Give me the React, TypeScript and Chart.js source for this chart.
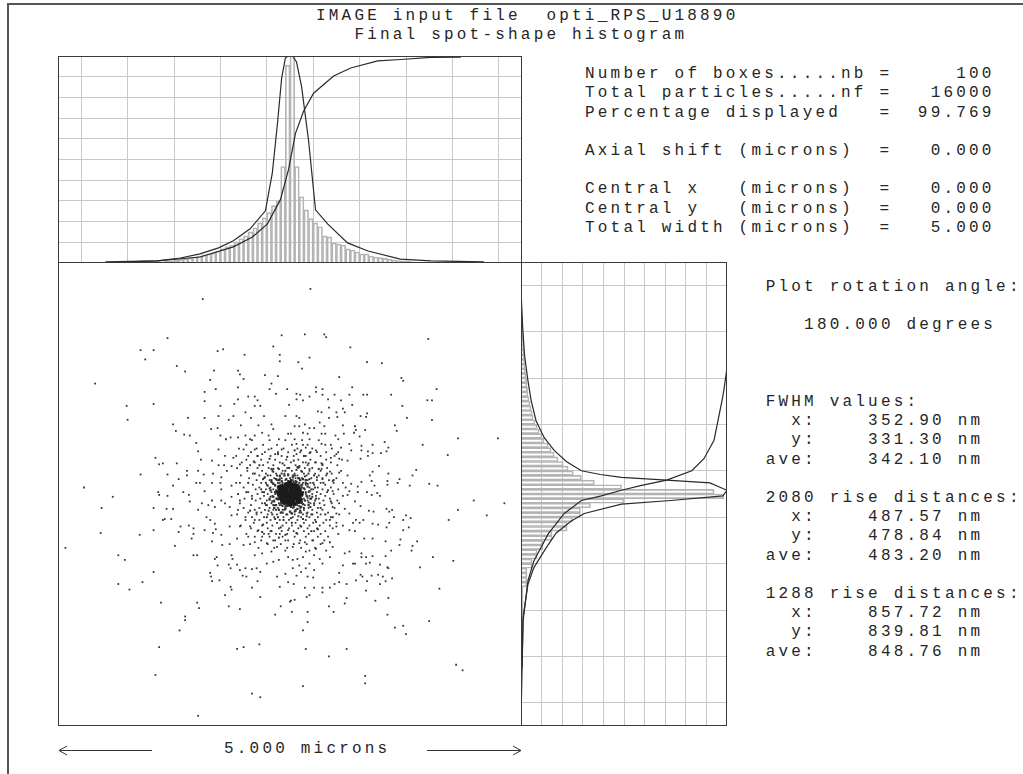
import React, { useEffect, useRef } from "react";
import { Chart, registerables } from "chart.js";

Chart.register(...registerables);

// ---------------- text ----------------
const TITLE_LINES = ["IMAGE input file  opti_RPS_U18890", "   Final spot-shape histogram"];
const STATS_LINES = [
  "Number of boxes.....nb =     100",
  "Total particles.....nf =   16000",
  "Percentage displayed   =  99.769",
  "",
  "Axial shift (microns)  =   0.000",
  "",
  "Central x   (microns)  =   0.000",
  "Central y   (microns)  =   0.000",
  "Total width (microns)  =   5.000",
];
const INFO_LINES = [
  "Plot rotation angle:",
  "",
  "   180.000 degrees",
  "",
  "",
  "",
  "FWHM values:",
  "  x:    352.90 nm",
  "  y:    331.30 nm",
  "ave:    342.10 nm",
  "",
  "2080 rise distances:",
  "  x:    487.57 nm",
  "  y:    478.84 nm",
  "ave:    483.20 nm",
  "",
  "1288 rise distances:",
  "  x:    857.72 nm",
  "  y:    839.81 nm",
  "ave:    848.76 nm",
];
const SCALE_LABEL = "5.000 microns";

// ---------------- histogram parameters ----------------
const NB = 100;
const TOTAL_WIDTH = 5.0;

// top (x) histogram counts, percent of peak, bins from -2.5 to 2.5 microns
const topHistCounts = [
  0, 0, 0, 0, 0, 0, 0, 0, 0, 0,
  0, 0, 0, 0, 0, 0.1, 0.1, 0.2, 0.2, 0.3,
  0.4, 0.5, 0.6, 0.8, 1.0, 1.3, 1.6, 2.0, 2.4, 2.9,
  3.4, 3.9, 4.4, 4.9, 5.8, 6.8, 7.8, 8.7, 10.2, 11.7,
  13.1, 15.0, 17.0, 19.4, 21.8, 24.3, 27.7, 30.0, 46.6, 95.6,
  100, 46.6, 32.0, 25.7, 21.4, 19.4, 17.5, 13.1, 12.6, 9.7,
  9.2, 8.7, 6.8, 6.3, 5.3, 4.4, 4.4, 3.4, 2.9, 2.6,
  2.2, 1.9, 1.5, 1.2, 1.0, 0.8, 0.6, 0.5, 0.4, 0.3,
  0.2, 0.2, 0.1, 0.1, 0, 0, 0, 0, 0, 0,
  0, 0, 0, 0, 0, 0, 0, 0, 0, 0,
];
const topProfileX = [-1.99, -1.43, -1.18, -0.97, -0.77, -0.61, -0.43, -0.265, -0.19, -0.135, -0.09, -0.05, -0.02, 0.03, 0.07, 0.124, 0.2, 0.275, 0.405, 0.62, 0.84, 1.19, 1.52, 2.09];
const topProfileY = [0.5, 1.0, 2.4, 4.4, 7.3, 10.7, 16.5, 25.2, 43.7, 67.5, 89.3, 99, 100, 100, 97.1, 85.4, 59.2, 25.7, 18.9, 9.7, 5.8, 1.9, 1.0, 0.5];
const topCumX = [-1.99, -1.43, -0.97, -0.61, -0.405, -0.243, -0.103, -0.016, 0.059, 0.146, 0.254, 0.47, 0.654, 0.945, 1.193, 1.517, 1.841];
const topCumY = [0.2, 1.0, 2.9, 7.8, 12.6, 18.9, 30.6, 45.1, 62.6, 73.3, 82.0, 90.3, 94.2, 97.6, 98.3, 99.3, 99.5];

// side (y) histogram counts, bins listed from top of the panel to bottom
const sideHistCounts = [
  0, 0, 0, 0.15, 0.15, 0.25, 0.25, 0.4, 0.4, 0.4,
  0.5, 0.6, 0.7, 0.8, 0.9, 1.0, 1.1, 1.3, 1.4, 1.6,
  1.7, 1.9, 2.0, 2.2, 2.4, 2.7, 2.9, 3.2, 3.4, 3.9,
  4.4, 4.9, 5.4, 5.9, 6.8, 7.8, 8.8, 10.2, 11.2, 13.2,
  14.6, 16.1, 18.0, 20.5, 22.9, 25.4, 29.3, 35.6, 48.8, 93.7,
  98.5, 50.0, 33.7, 28.8, 28.8, 25.0, 22.4, 22.4, 15.1, 15.1,
  10.7, 10.7, 7.8, 7.8, 5.4, 5.4, 2.9, 2.9, 2.9, 2.9,
  1.0, 1.0, 1.0, 1.0, 1.0, 1.0, 0.7, 0.6, 0.5, 0.4,
  0.3, 0.2, 0.2, 0.2, 0.2, 0.2, 0, 0, 0, 0,
  0, 0, 0, 0, 0, 0, 0, 0, 0, 0,
];
const sideProfilePos = [-2.09, -1.8, -1.5, -1.23, -1.01, -0.79, -0.61, -0.47, -0.35, -0.25, -0.21, -0.18, -0.15, -0.12, -0.04, 0.02, 0.07, 0.11, 0.21, 0.29, 0.42, 0.58, 0.79, 0.97, 1.33, 1.87];
const sideProfileVal = [0.2, 0.8, 1.7, 3.3, 4.9, 7.3, 11.2, 16.1, 22.0, 29.3, 38.5, 48.8, 70.7, 91.7, 100, 98.0, 72.7, 48.8, 30.7, 24.4, 17.1, 12.2, 6.3, 3.4, 1.0, 0.5];
const sideCumPos = [-1.59, -1.33, -1.12, -1.01, -0.58, -0.38, -0.25, -0.15, -0.09, -0.04, 0.02, 0.07, 0.21, 0.43, 0.72, 0.93, 1.37, 2.23];
const sideCumVal = [100, 99.8, 98.5, 97.6, 93.7, 88.8, 82.9, 70.7, 58.0, 48.8, 39.0, 29.3, 21.0, 13.2, 6.3, 3.4, 1.0, 0.2];

// ---------------- spot particles (microns) ----------------
const particlesUpperLeft: [number, number][] = [
  [-0.94,2.10],[-0.09,1.71],[-1.32,1.68],[-1.61,1.55],[-1.47,1.55],[-1.56,1.45],[-0.78,1.54],[-0.72,1.56],[-0.49,1.50],[-0.18,1.59],[-0.11,1.50],[-0.11,1.43],[-1.22,1.38],[-1.13,1.32],[-0.82,1.33],[-0.56,1.33],[-0.54,1.29],[-0.27,1.28],[-0.13,1.27],[-2.10,1.19],[-0.86,1.23],[-0.50,1.24],[-0.20,1.19],[-0.92,1.10],[-0.80,1.13],[-0.56,1.15],[-0.22,1.13],[-0.03,1.13],[-0.15,1.08],[-1.76,0.95],[-1.47,0.97],[-0.92,1.00],[-0.75,0.95],[-0.60,0.97],[-0.56,1.02],[-0.45,1.05],[-0.38,1.05],[-0.35,1.01],[-0.38,0.95],[-0.32,0.95],[-0.01,0.96],[-1.75,0.80],[-1.10,0.82],[-0.92,0.82],[-1.26,0.75],[-1.23,0.68],[-1.14,0.64],[-1.08,0.63],[-1.01,0.55],[-0.77,0.84],[-0.66,0.80],[-0.61,0.84],[-0.53,0.74],[-0.48,0.88],[-0.42,0.82],[-0.34,0.74],[-0.28,0.84],[-0.20,0.75],[-0.05,0.84],[-0.85,0.70],[-0.78,0.71],[-0.75,0.63],[-0.69,0.59],[-0.64,0.61],[-0.56,0.61],[-0.48,0.63],[-0.43,0.59],[-0.38,0.63],[-0.30,0.66],[-0.23,0.63],[-0.18,0.70],[-0.12,0.59],[-0.02,0.65],[-0.99,0.46],[-0.77,0.48],[-0.70,0.41],[-0.61,0.39],[-0.50,0.48],[-0.45,0.41],[-0.38,0.48],[-0.30,0.43],[-0.23,0.48],[-0.16,0.43],[-0.09,0.48],[-1.45,0.39],[-1.41,0.32],[-1.37,0.33],[-1.22,0.33],[-0.96,0.37],[-0.84,0.36],[-0.77,0.31],[-0.71,0.31],[-0.63,0.30],[-0.54,0.32],[-1.61,0.21],[-1.32,0.21],[-1.11,0.25],[-0.99,0.25],[-0.93,0.21],[-0.83,0.22],[-0.74,0.18],[-0.68,0.25],[-2.22,0.07],[-1.26,0.09],[-1.20,0.16],[-1.11,0.20],[-1.01,0.12],[-0.97,0.12],[-0.84,0.12],[-0.75,0.12],[-0.74,0.05],[-0.92,0.03],[-1.15,0.02],[-1.42,0.02],[-0.63,0.09],[-0.54,0.12],
];
const particlesUpperRight: [number, number][] = [
  [0.22,2.21],[0.16,1.72],[0.37,1.72],[0.39,1.69],[0.65,1.58],[1.49,1.67],[0.09,1.42],[0.21,1.47],[0.13,1.35],[0.83,1.42],[0.99,1.41],[0.53,1.26],[1.20,1.25],[1.22,1.22],[0.28,1.15],[0.35,1.13],[0.67,1.15],[1.58,1.13],[0.07,1.08],[0.11,1.07],[0.21,1.05],[0.28,1.10],[0.35,1.07],[0.48,1.07],[0.64,1.07],[0.79,1.07],[0.83,1.07],[1.09,1.07],[1.48,1.01],[1.53,1.01],[0.07,1.02],[0.14,1.01],[0.41,1.02],[0.55,1.01],[0.67,0.96],[1.21,0.95],[0.42,0.93],[0.57,0.92],[0.30,0.89],[0.34,0.88],[0.50,0.88],[0.59,0.88],[0.76,0.84],[0.83,0.87],[0.82,0.83],[0.07,0.84],[0.10,0.82],[0.42,0.82],[0.51,0.83],[1.26,0.82],[1.53,0.80],[0.32,0.77],[0.16,0.75],[0.05,0.73],[0.10,0.73],[0.21,0.71],[0.26,0.71],[0.37,0.73],[0.57,0.74],[0.70,0.73],[0.71,0.69],[0.81,0.69],[1.13,0.74],[1.15,0.68],[1.81,0.60],[2.24,0.60],[0.01,0.65],[0.14,0.66],[0.19,0.65],[0.34,0.65],[0.38,0.65],[0.49,0.63],[0.58,0.65],[0.69,0.66],[0.75,0.62],[0.52,0.59],[0.21,0.59],[0.05,0.59],[1.02,0.56],[1.43,0.53],[1.70,0.42],[0.07,0.54],[0.14,0.53],[0.17,0.50],[0.34,0.54],[0.44,0.53],[0.55,0.50],[0.64,0.54],[0.77,0.52],[0.89,0.53],[1.06,0.50],[0.66,0.47],[0.77,0.47],[0.84,0.46],[0.89,0.44],[0.98,0.44],[1.04,0.46],[0.50,0.43],[0.39,0.45],[0.28,0.47],[0.21,0.44],[0.07,0.43],[0.44,0.39],[0.53,0.38],[0.62,0.36],[0.76,0.38],[0.84,0.41],[0.96,0.30],[0.28,0.34],[0.35,0.32],[0.17,0.34],[1.36,0.26],[1.06,0.22],[0.89,0.24],[0.86,0.20],[0.62,0.20],[0.53,0.23],[0.43,0.24],[0.34,0.27],[0.21,0.27],[0.10,0.29],[1.32,0.20],[1.18,0.16],[1.05,0.14],[0.88,0.14],[0.77,0.13],[0.66,0.11],[0.57,0.12],[0.46,0.14],[0.35,0.16],[1.29,0.09],[1.50,0.11],[1.59,0.09],[1.16,0.12],[1.05,0.10],[0.91,0.09],[0.73,0.08],[0.64,0.03],[0.46,0.03],[0.83,0.02],[0.94,0.01],[0.73,0.02],
];
const particlesLowerLeft: [number, number][] = [
  [-1.91,-0.03],[-2.03,-0.15],[-2.04,-0.42],[-2.42,-0.58],[-1.62,-0.44],[-1.47,-0.15],[-1.47,-0.39],[-1.41,-0.01],[-1.32,-0.02],[-1.33,-0.16],[-1.26,-0.16],[-1.37,-0.28],[-1.35,-0.27],[-1.28,-0.27],[-1.20,-0.41],[-1.18,-0.35],[-1.24,-0.56],[-1.85,-0.66],[-1.78,-0.71],[-1.85,-0.97],[-1.73,-1.03],[-1.59,-0.95],[-1.47,-0.84],[-1.39,-1.17],[-1.09,-0.01],[-1.08,-0.08],[-1.09,-0.34],[-1.04,-0.37],[-1.04,-0.43],[-1.06,-0.48],[-1.04,-0.66],[-1.00,-0.66],[-0.99,-0.17],[-0.90,-0.25],[-0.92,-0.39],[-0.86,-0.28],[-0.83,-0.42],[-0.80,-0.38],[-0.81,-0.32],[-0.84,-0.51],[-0.74,-0.44],[-0.73,-0.55],[-0.65,-0.54],[-0.65,-0.35],[-0.63,-0.23],[-0.95,-0.10],[-0.88,-0.12],[-0.84,-0.07],[-0.81,-0.14],[-0.74,-0.07],[-0.70,-0.10],[-0.65,-0.14],[-0.63,-0.03],[-0.54,-0.07],[-0.56,-0.17],[-0.48,-0.25],[-0.54,-0.35],[-0.57,-0.48],[-0.50,-0.55],[-0.45,-0.46],[-0.43,-0.35],[-0.38,-0.28],[-0.34,-0.39],[-0.38,-0.52],[-0.30,-0.46],[-0.23,-0.43],[-0.25,-0.53],[-0.18,-0.50],[-0.14,-0.57],[-0.11,-0.43],[-0.05,-0.50],[-0.02,-0.39],[-0.79,-0.68],[-0.81,-0.70],[-0.63,-0.66],[-0.62,-0.70],[-0.66,-0.76],[-0.64,-0.80],[-0.57,-0.76],[-0.78,-0.77],[-0.54,-0.82],[-0.48,-0.80],[-0.51,-0.88],[-0.47,-0.89],[-0.41,-0.81],[-0.36,-0.80],[-0.32,-0.84],[-0.25,-0.75],[-0.18,-0.73],[-0.12,-0.71],[-0.02,-0.68],[-0.38,-0.66],[-0.30,-0.64],[-0.20,-0.62],[-0.05,-0.61],[-0.86,-0.85],[-0.85,-0.89],[-0.84,-0.94],[-0.76,-0.93],[-0.70,-1.09],[-0.64,-1.00],[-0.63,-1.03],[-0.41,-1.01],[-0.35,-0.94],[-0.32,-1.11],[-0.14,-0.89],[-0.11,-1.00],[-0.02,-0.95],[-0.05,-0.86],[-1.00,-1.17],[-0.98,-1.23],[-0.66,-1.21],[-0.54,-1.24],[-0.16,-1.30],[-0.10,-1.21],[0.00,-1.16],[-1.13,-1.32],[-1.13,-1.36],[-1.19,-1.47],[-1.41,-1.65],[-0.57,-1.67],[-0.50,-1.65],[-0.33,-1.62],[-1.45,-1.95],[-0.41,-2.15],[-0.32,-2.19],[-0.99,-2.39],
];
const particlesLowerRight: [number, number][] = [
  [1.98,-0.07],[2.31,-0.10],[1.81,-0.17],[2.12,-0.23],[1.71,-0.28],[0.88,-0.01],[0.97,-0.02],[0.62,-0.01],[0.70,-0.08],[0.76,-0.13],[0.85,-0.18],[0.90,-0.19],[1.04,-0.16],[1.10,-0.17],[1.07,-0.19],[1.12,-0.25],[1.25,-0.23],[1.30,-0.26],[1.22,-0.28],[1.07,-0.31],[1.04,-0.36],[1.28,-0.36],[1.22,-0.39],[0.95,-0.33],[0.89,-0.32],[0.79,-0.28],[0.75,-0.31],[0.71,-0.28],[0.68,-0.31],[0.64,-0.21],[0.59,-0.16],[0.53,-0.10],[0.50,-0.21],[0.46,-0.14],[0.43,-0.28],[0.50,-0.35],[0.57,-0.34],[0.64,-0.39],[0.70,-0.40],[0.80,-0.48],[0.89,-0.48],[1.03,-0.51],[1.18,-0.55],[1.19,-0.49],[1.37,-0.51],[1.32,-0.56],[1.31,-0.61],[1.09,-0.61],[1.03,-0.67],[0.89,-0.67],[0.82,-0.68],[0.77,-0.68],[0.77,-0.64],[0.70,-0.75],[0.68,-0.75],[0.86,-0.74],[0.82,-0.75],[0.97,-0.76],[1.05,-0.79],[1.06,-0.80],[1.54,-0.68],[1.76,-0.72],[1.40,-0.79],[0.76,-0.87],[0.78,-0.89],[0.88,-0.88],[0.95,-0.87],[1.00,-0.89],[1.03,-0.94],[1.10,-0.91],[0.71,-0.93],[0.83,-0.94],[0.97,-0.97],[0.53,-0.95],[0.61,-0.97],[0.48,-0.97],[0.53,-0.85],[0.57,-0.77],[0.64,-0.62],[0.59,-0.64],[0.46,-0.57],[0.43,-0.52],[0.39,-0.61],[0.43,-0.68],[0.35,-0.75],[0.32,-0.70],[0.26,-0.66],[0.28,-0.59],[0.21,-0.61],[0.17,-0.62],[0.14,-0.68],[0.08,-0.70],[0.03,-0.71],[0.03,-0.57],[0.10,-0.53],[0.16,-0.52],[0.25,-0.50],[0.35,-0.53],[0.21,-0.75],[0.10,-0.77],[0.03,-0.80],[0.17,-0.80],[0.26,-0.82],[0.12,-0.84],[0.07,-0.88],[0.19,-0.89],[0.25,-0.90],[0.04,-0.97],[0.16,-1.01],[0.26,-1.01],[0.35,-1.01],[0.43,-1.01],[0.21,-1.09],[0.18,-1.11],[0.35,-1.06],[0.05,-1.14],[0.01,-1.15],[0.61,-1.12],[0.59,-1.18],[0.82,-1.04],[1.06,-1.12],[0.92,-1.15],[1.61,-1.02],[0.42,-1.21],[0.47,-1.27],[0.02,-1.27],[0.19,-1.27],[0.19,-1.38],[0.14,-1.47],[1.05,-1.30],[1.13,-1.44],[1.22,-1.42],[1.25,-1.51],[1.50,-1.37],[0.17,-1.67],[0.61,-1.67],[0.42,-1.75],[0.81,-1.96],[0.81,-2.04],[0.14,-2.07],[1.79,-1.84],[1.86,-1.90],
];
const particlesInner: [number, number][] = [
  [-0.45,0.12],[-0.41,-0.05],[-0.38,0.22],[-0.36,-0.2],[-0.33,0.31],[-0.31,0.05],[-0.29,-0.33],[-0.27,0.18],[-0.25,-0.12],[-0.22,0.38],[-0.2,-0.4],[-0.18,0.27],[-0.16,-0.27],[-0.13,0.43],[-0.1,-0.36],[-0.08,0.33],[-0.05,-0.44],[-0.03,0.4],[0.02,-0.31],[0.04,0.36],[0.07,-0.42],[0.1,0.3],[0.12,-0.35],[0.15,0.41],[0.18,-0.24],[0.2,0.33],[0.23,-0.4],[0.26,0.2],[0.28,-0.3],[0.31,0.27],[0.33,-0.15],[0.36,0.12],[0.38,-0.22],[0.41,0.04],[0.44,-0.08],[0.4,0.22],[0.34,0.33],[-0.43,-0.18],[-0.39,0.35],[-0.47,0.02],[0.47,0.15],[0.3,-0.38],[-0.3,-0.41],[-0.35,0.41],[0.22,0.45],[-0.12,-0.47],[0.05,0.47],[0.46,-0.25],[-0.46,0.28],[0.12,0.47],
  [-0.28,0.02],[-0.27,-0.1],[-0.26,0.12],[-0.24,0.2],[-0.23,-0.18],[-0.22,0.06],[-0.21,-0.03],[-0.2,0.15],[-0.19,-0.22],[-0.18,0.24],[-0.17,-0.08],[-0.16,0.09],[-0.15,-0.17],[-0.14,0.2],[-0.13,-0.25],[-0.12,0.27],[-0.1,-0.2],[-0.09,0.22],[-0.07,-0.28],[-0.05,0.25],[-0.03,-0.22],[-0.01,0.28],[0.01,-0.26],[0.03,0.2],[0.05,-0.19],[0.07,0.26],[0.09,-0.24],[0.1,0.17],[0.12,-0.2],[0.13,0.24],[0.15,-0.15],[0.16,0.19],[0.18,-0.21],[0.19,0.11],[0.2,-0.09],[0.21,0.16],[0.22,-0.14],[0.23,0.05],[0.24,-0.03],[0.25,0.12],[0.26,-0.1],[0.27,0.07],[0.28,-0.05],[0.17,0.02],[-0.25,-0.25],[0.2,0.22],[-0.2,0.27],[0.24,-0.22],[-0.11,0.16],[0.14,-0.27],[-0.29,0.16],[0.29,0.18],[-0.18,-0.12],[0.08,0.29],[-0.06,-0.17],[0.11,0.09],[-0.24,0.09],[0.19,-0.04],[-0.15,0.04],[0.06,-0.12],
  [-0.14,0.03],[-0.13,-0.06],[-0.12,0.09],[-0.11,-0.12],[-0.1,0.05],[-0.09,-0.02],[-0.08,0.12],[-0.07,-0.09],[-0.06,0.07],[-0.05,-0.13],[-0.04,0.1],[-0.03,-0.05],[-0.02,0.14],[-0.01,-0.1],[0,0.08],[0.01,-0.14],[0.02,0.11],[0.03,-0.07],[0.04,0.13],[0.05,-0.03],[0.06,0.09],[0.07,-0.11],[0.08,0.04],[0.09,-0.08],[0.1,0.12],[0.11,-0.02],[0.12,0.07],[0.13,-0.09],[0.14,0.02],[-0.12,-0.01],[0.12,-0.05],[-0.08,-0.13],[0.06,0.14],[-0.13,0.12],[0.1,-0.13],
];
const particlesRing: [number, number][] = [
  [-0.41,0.58],[-0.22,0.58],[-0.05,0.58],[0.13,0.58],[0.31,0.58],
  [-0.47,0.53],[-0.29,0.53],[-0.14,0.53],[0.02,0.53],[0.19,0.53],[0.38,0.53],
  [-0.55,0.49],[-0.36,0.49],[-0.2,0.49],[-0.07,0.49],[0.08,0.49],[0.24,0.49],[0.45,0.49],
  [-0.42,0.45],[-0.27,0.45],[-0.13,0.45],[-0.02,0.45],[0.11,0.45],[0.29,0.45],[0.52,0.45],
  [-0.58,0.41],[-0.35,0.41],[-0.21,0.41],[-0.09,0.41],[0.04,0.41],[0.17,0.41],[0.33,0.41],[0.48,0.41],
  [-0.47,0.37],[-0.31,0.37],[-0.16,0.37],[-0.04,0.37],[0.09,0.37],[0.22,0.37],[0.39,0.37],[0.56,0.37],
  [-0.52,0.34],[-0.38,0.34],[-0.24,0.34],[-0.11,0.34],[0.01,0.34],[0.14,0.34],[0.27,0.34],[0.44,0.34],
  [-0.43,0.31],[-0.29,0.31],[-0.18,0.31],[-0.06,0.31],[0.06,0.31],[0.19,0.31],[0.35,0.31],[0.51,0.31],
  [-0.57,0.28],[-0.35,0.28],[-0.23,0.28],[-0.13,0.28],[-0.03,0.28],[0.09,0.28],[0.16,0.28],[0.24,0.28],[0.4,0.28],
  [-0.46,0.25],[-0.3,0.25],[-0.19,0.25],[-0.08,0.25],[0.02,0.25],[0.12,0.25],[0.21,0.25],[0.33,0.25],[0.55,0.25],
  [-0.4,0.22],[-0.26,0.22],[-0.15,0.22],[-0.06,0.22],[0.05,0.22],[0.15,0.22],[0.27,0.22],[0.45,0.22],
  [-0.53,0.2],[-0.33,0.2],[-0.21,0.2],[-0.11,0.2],[-0.02,0.2],[0.08,0.2],[0.18,0.2],[0.31,0.2],[0.39,0.2],
  [-0.44,0.17],[-0.28,0.17],[-0.17,0.17],[-0.09,0.17],[0.0,0.17],[0.06,0.17],[0.13,0.17],[0.23,0.17],[0.35,0.17],[0.5,0.17],
  [-0.36,0.15],[-0.22,0.15],[-0.14,0.15],[-0.05,0.15],[0.03,0.15],[0.11,0.15],[0.19,0.15],[0.29,0.15],[0.42,0.15],
  [-0.58,0.12],[-0.31,0.12],[-0.19,0.12],[-0.11,0.12],[-0.03,0.12],[0.05,0.12],[0.14,0.12],[0.22,0.12],[0.33,0.12],[0.47,0.12],
  [-0.4,0.1],[-0.25,0.1],[-0.16,0.1],[-0.08,0.1],[0.01,0.1],[0.09,0.1],[0.17,0.1],[0.26,0.1],[0.38,0.1],
  [-0.5,0.07],[-0.33,0.07],[-0.21,0.07],[-0.13,0.07],[0.13,0.07],[0.21,0.07],[0.3,0.07],[0.44,0.07],[0.6,0.07],
  [-0.37,0.05],[-0.26,0.05],[-0.18,0.05],[0.16,0.05],[0.25,0.05],[0.35,0.05],[0.52,0.05],
  [-0.45,0.02],[-0.3,0.02],[-0.2,0.02],[-0.14,0.02],[0.14,0.02],[0.2,0.02],[0.29,0.02],[0.4,0.02],
  [-0.56,0.0],[-0.35,0.0],[-0.24,0.0],[-0.16,0.0],[0.17,0.0],[0.24,0.0],[0.33,0.0],[0.47,0.0],
  [-0.41,-0.02],[-0.28,-0.02],[-0.19,-0.02],[-0.13,-0.02],[0.13,-0.02],[0.21,-0.02],[0.28,-0.02],[0.38,-0.02],[0.57,-0.02],
  [-0.49,-0.05],[-0.32,-0.05],[-0.22,-0.05],[-0.15,-0.05],[0.15,-0.05],[0.23,-0.05],[0.31,-0.05],[0.43,-0.05],
  [-0.37,-0.07],[-0.25,-0.07],[-0.17,-0.07],[0.12,-0.07],[0.19,-0.07],[0.27,-0.07],[0.36,-0.07],[0.51,-0.07],
  [-0.54,-0.1],[-0.3,-0.1],[-0.2,-0.1],[-0.12,-0.1],[-0.04,-0.1],[0.04,-0.1],[0.12,-0.1],[0.22,-0.1],[0.32,-0.1],[0.45,-0.1],
  [-0.42,-0.12],[-0.26,-0.12],[-0.17,-0.12],[-0.09,-0.12],[0.0,-0.12],[0.08,-0.12],[0.16,-0.12],[0.26,-0.12],[0.37,-0.12],
  [-0.5,-0.15],[-0.33,-0.15],[-0.22,-0.15],[-0.13,-0.15],[-0.05,-0.15],[0.03,-0.15],[0.11,-0.15],[0.2,-0.15],[0.3,-0.15],[0.48,-0.15],
  [-0.38,-0.17],[-0.27,-0.17],[-0.18,-0.17],[-0.08,-0.17],[0.06,-0.17],[0.15,-0.17],[0.24,-0.17],[0.35,-0.17],
  [-0.45,-0.2],[-0.31,-0.2],[-0.2,-0.2],[-0.1,-0.2],[0.01,-0.2],[0.1,-0.2],[0.19,-0.2],[0.29,-0.2],[0.41,-0.2],
  [-0.57,-0.22],[-0.36,-0.22],[-0.24,-0.22],[-0.14,-0.22],[-0.04,-0.22],[0.05,-0.22],[0.14,-0.22],[0.23,-0.22],[0.33,-0.22],[0.53,-0.22],
  [-0.41,-0.25],[-0.28,-0.25],[-0.17,-0.25],[-0.07,-0.25],[0.03,-0.25],[0.12,-0.25],[0.21,-0.25],[0.3,-0.25],[0.44,-0.25],
  [-0.48,-0.28],[-0.33,-0.28],[-0.21,-0.28],[-0.11,-0.28],[-0.01,-0.28],[0.08,-0.28],[0.17,-0.28],[0.27,-0.28],[0.39,-0.28],
  [-0.39,-0.31],[-0.25,-0.31],[-0.14,-0.31],[-0.04,-0.31],[0.06,-0.31],[0.15,-0.31],[0.25,-0.31],[0.36,-0.31],[0.5,-0.31],
  [-0.53,-0.34],[-0.3,-0.34],[-0.19,-0.34],[-0.08,-0.34],[0.02,-0.34],[0.11,-0.34],[0.21,-0.34],[0.32,-0.34],[0.43,-0.34],
  [-0.42,-0.37],[-0.24,-0.37],[-0.12,-0.37],[-0.01,-0.37],[0.09,-0.37],[0.19,-0.37],[0.29,-0.37],[0.46,-0.37],
  [-0.35,-0.4],[-0.21,-0.4],[-0.09,-0.4],[0.04,-0.4],[0.15,-0.4],[0.26,-0.4],[0.38,-0.4],
  [-0.47,-0.43],[-0.28,-0.43],[-0.15,-0.43],[-0.03,-0.43],[0.08,-0.43],[0.2,-0.43],[0.33,-0.43],[0.52,-0.43],
  [-0.38,-0.46],[-0.22,-0.46],[-0.08,-0.46],[0.05,-0.46],[0.17,-0.46],[0.3,-0.46],[0.41,-0.46],
  [-0.31,-0.5],[-0.16,-0.5],[-0.02,-0.5],[0.11,-0.5],[0.24,-0.5],[0.37,-0.5],
  [-0.43,-0.54],[-0.24,-0.54],[-0.1,-0.54],[0.04,-0.54],[0.18,-0.54],[0.33,-0.54],
  [-0.34,-0.58],[-0.17,-0.58],[-0.03,-0.58],[0.12,-0.58],[0.27,-0.58],
];
const particlesHalo: [number, number][] = [
  [-0.21,0.04],[-0.19,-0.08],[-0.18,0.11],[-0.17,-0.15],[-0.16,0.02],[-0.15,0.16],[-0.14,-0.05],[-0.13,0.08],[-0.12,-0.17],[-0.11,0.19],[-0.1,-0.1],[-0.09,0.14],[-0.08,-0.2],[-0.07,0.05],[-0.06,0.2],[-0.05,-0.16],[-0.04,0.16],[-0.03,-0.13],[-0.02,0.21],[0.0,-0.19],[0.01,0.15],[0.02,-0.21],[0.03,0.18],[0.04,-0.14],[0.05,0.2],[0.06,-0.18],[0.07,0.13],[0.08,-0.16],[0.09,0.17],[0.1,-0.06],[0.11,0.15],[0.12,-0.14],[0.13,0.1],[0.14,-0.11],[0.15,0.06],[0.16,-0.07],[0.17,0.12],[0.18,-0.02],[0.19,0.08],[0.2,-0.12],[0.21,0.03],[-0.2,0.13],[-0.18,-0.03],[0.17,0.15],[-0.15,-0.12],[0.14,0.16],[-0.12,0.15],[0.11,-0.18],[-0.22,-0.06],[0.22,-0.05],
];
const particlesCore: [number, number][] = [
  [0,0],[0.03,0.01],[-0.03,0.01],[0.01,0.03],[0.01,-0.03],[-0.02,-0.02],[0.02,0.02],[0.05,-0.01],[-0.05,0.02],[0.02,0.05],[-0.01,-0.05],[0.06,0.03],[-0.06,-0.03],[0.04,-0.05],[-0.04,0.05],[0.07,-0.04],[-0.07,0.04],[0.08,0.01],[-0.08,-0.01],[0.0,0.08],[0.01,-0.08],[0.05,0.06],[-0.05,-0.06],[0.09,-0.02],[-0.09,0.02],[0.03,0.09],[-0.03,-0.09],
  [0.1,0.04],[-0.1,-0.04],[0.06,0.09],[-0.06,-0.09],[0.11,-0.06],[-0.11,0.06],[0.04,-0.1],[-0.04,0.1],[0.08,0.07],[-0.08,-0.07],[0.09,-0.08],[-0.09,0.08],[0.12,0.0],[-0.12,0.01],[0.0,0.12],[0.0,-0.11],
];

// ---------------- styling ----------------
const GRID = "#c8c8c8";
const FRAME = "#3a3a3a";
const BAR = "#b4b4b4";
const LINE = "#2a2a2a";
const DOT = "#333333";
const MONO = '"Liberation Mono", "DejaVu Sans Mono", monospace';

const framePlugin = {
  id: "frame",
  afterDraw(chart: any) {
    const { ctx, chartArea: a } = chart;
    ctx.save();
    ctx.strokeStyle = FRAME;
    ctx.lineWidth = 1;
    ctx.strokeRect(Math.round(a.left) + 0.5, Math.round(a.top) + 0.5, Math.round(a.right - a.left) - 1, Math.round(a.bottom - a.top) - 1);
    ctx.restore();
  },
};

const baseOptions = {
  responsive: false,
  animation: false,
  devicePixelRatio: 1,
  events: [],
  layout: { padding: 0, autoPadding: false },
  plugins: { legend: { display: false }, tooltip: { enabled: false }, title: { display: false } },
};

const binCenters = Array.from({ length: NB }, (_, i) => -TOTAL_WIDTH / 2 + ((i + 0.5) * TOTAL_WIDTH) / NB);

const gridAxis = (min: number, max: number, step: number, extra: any = {}) => ({
  type: "linear",
  min,
  max,
  offset: false,
  ticks: { display: false, stepSize: step },
  grid: { color: GRID, lineWidth: 1, drawTicks: false },
  border: { display: false },
  ...extra,
});

const lineDs = (data: any[]) => ({
  type: "line",
  data,
  borderColor: LINE,
  borderWidth: 1.2,
  pointRadius: 0,
  tension: 0,
  fill: false,
  order: 1,
});

const barDs = (data: any[]) => ({
  type: "bar",
  data,
  backgroundColor: "rgba(0,0,0,0)",
  borderColor: BAR,
  borderWidth: 1,
  barPercentage: 1,
  categoryPercentage: 1,
  grouped: false,
  order: 2,
});

function topConfig(): any {
  return {
    type: "bar",
    data: {
      datasets: [
        lineDs(topProfileX.map((x, i) => ({ x, y: topProfileY[i] }))),
        lineDs(topCumX.map((x, i) => ({ x, y: topCumY[i] }))),
        barDs(binCenters.map((x, i) => ({ x, y: topHistCounts[i] }))),
      ],
    },
    options: {
      ...baseOptions,
      scales: {
        x: gridAxis(-TOTAL_WIDTH / 2, TOTAL_WIDTH / 2, 0.5),
        y: gridAxis(0, 100, 10),
      },
    },
    plugins: [framePlugin],
  };
}

function sideConfig(): any {
  return {
    type: "bar",
    data: {
      datasets: [
        lineDs(sideProfilePos.map((p, i) => ({ x: sideProfileVal[i], y: p }))),
        lineDs(sideCumPos.map((p, i) => ({ x: sideCumVal[i], y: p }))),
        barDs(binCenters.map((p, i) => ({ x: sideHistCounts[i], y: p }))),
      ],
    },
    options: {
      ...baseOptions,
      indexAxis: "y",
      scales: {
        x: gridAxis(0, 100, 10),
        y: gridAxis(-TOTAL_WIDTH / 2, TOTAL_WIDTH / 2, 0.5, { reverse: true }),
      },
    },
    plugins: [framePlugin],
  };
}

function scatterConfig(): any {
  const toXY = (arr: [number, number][]) => arr.map(([x, y]) => ({ x, y }));
  const dots = (arr: [number, number][], r = 1.25) => ({
    data: toXY(arr),
    pointStyle: "rect",
    pointRadius: r,
    backgroundColor: DOT,
    borderWidth: 0,
  });
  return {
    type: "scatter",
    data: {
      datasets: [
        { data: toXY(particlesCore), pointRadius: 2.6, backgroundColor: "#1c1c1c", borderWidth: 0 },
        dots(particlesHalo, 1.6),
        dots(particlesInner, 1.4),
        dots(particlesRing),
        dots(particlesUpperLeft),
        dots(particlesUpperRight),
        dots(particlesLowerLeft),
        dots(particlesLowerRight),
      ],
    },
    options: {
      ...baseOptions,
      scales: {
        x: { type: "linear", display: false, min: -TOTAL_WIDTH / 2, max: TOTAL_WIDTH / 2 },
        y: { type: "linear", display: false, min: -TOTAL_WIDTH / 2, max: TOTAL_WIDTH / 2 },
      },
    },
    plugins: [framePlugin],
  };
}

function ChartCanvas(props: { left: number; top: number; width: number; height: number; build: () => any }) {
  const ref = useRef<HTMLCanvasElement | null>(null);
  useEffect(() => {
    if (!ref.current) return;
    const chart = new Chart(ref.current, props.build());
    return () => chart.destroy();
  }, []);
  return (
    <canvas
      ref={ref}
      width={props.width}
      height={props.height}
      style={{ position: "absolute", left: props.left, top: props.top, width: props.width, height: props.height }}
    />
  );
}

const textStyle = (left: number, top: number): React.CSSProperties => ({
  position: "absolute",
  left,
  top,
  margin: 0,
  fontFamily: MONO,
  fontSize: 16,
  lineHeight: "19.2px",
  letterSpacing: "3.2px",
  whiteSpace: "pre",
  color: "#262626",
});

export default function App() {
  return (
    <div style={{ position: "absolute", left: 0, top: 0, width: 1023, height: 774, background: "#fff", overflow: "hidden" }}>
      <svg width={1023} height={774} style={{ position: "absolute", left: 0, top: 0 }}>
        <path d="M8 774 V4 H1023" stroke="#555" strokeWidth={2} fill="none" />
        <line x1={59} y1={750.5} x2={152} y2={750.5} stroke="#333" strokeWidth={1} />
        <polyline points="67,746 59,750.5 67,755" stroke="#333" strokeWidth={1} fill="none" />
        <line x1={427} y1={750.5} x2={521} y2={750.5} stroke="#333" strokeWidth={1} />
        <polyline points="513,746 521,750.5 513,755" stroke="#333" strokeWidth={1} fill="none" />
      </svg>
      <ChartCanvas left={58} top={56} width={464} height={207} build={topConfig} />
      <ChartCanvas left={58} top={262} width={464} height={464} build={scatterConfig} />
      <ChartCanvas left={521} top={262} width={206} height={464} build={sideConfig} />
      <div style={textStyle(316, 6.8)}>{TITLE_LINES.join("\n")}</div>
      <div style={textStyle(585, 65.1)}>{STATS_LINES.join("\n")}</div>
      <div style={textStyle(765.7, 277.8)}>{INFO_LINES.join("\n")}</div>
      <div style={textStyle(224, 740)}>{SCALE_LABEL}</div>
    </div>
  );
}
